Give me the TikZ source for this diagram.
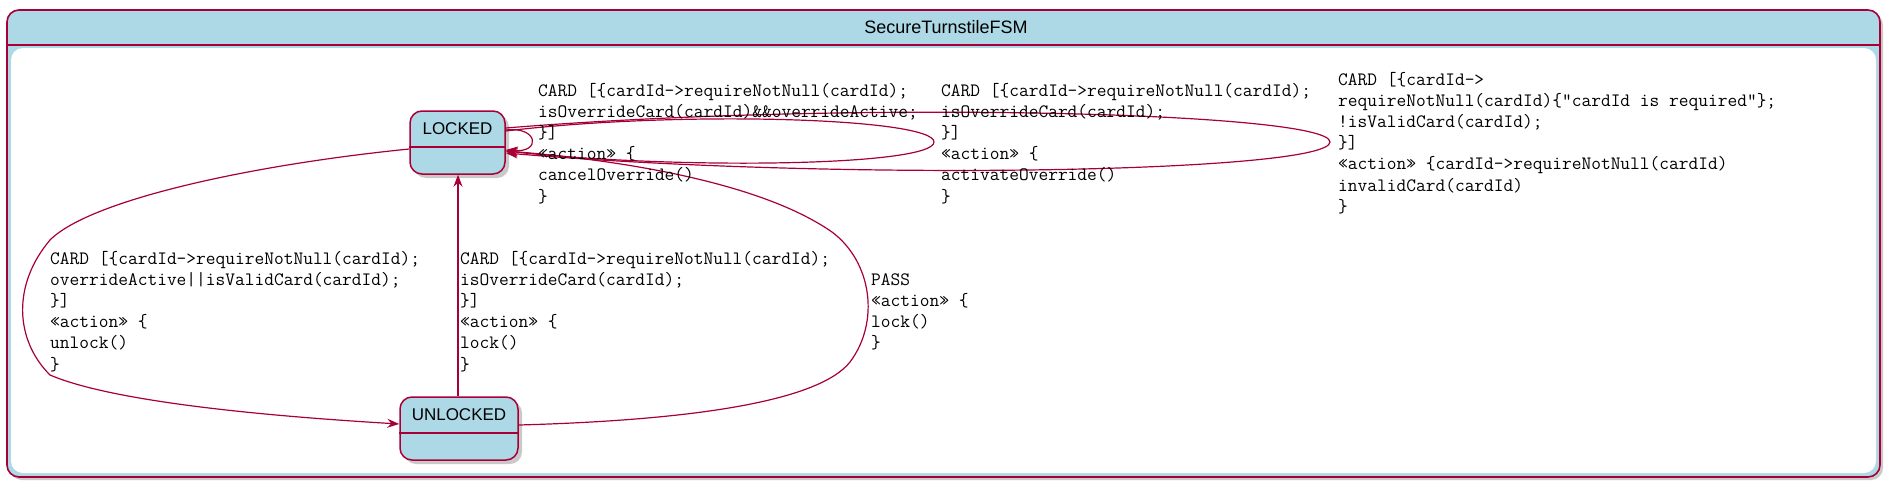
\documentclass[tikz,border=0pt]{standalone}
\usepackage{fontspec}
\newfontfamily\sansf{Liberation Sans}
\usetikzlibrary{arrows.meta,shadows}
\definecolor{pured}{HTML}{A80036}
\definecolor{pulb}{HTML}{ADD8E6}
\tikzset{
  frame/.style={draw=pured, fill=pulb, line width=1.6pt, rounded corners=12pt,
    drop shadow={shadow xshift=3pt, shadow yshift=-3pt, opacity=0.35, fill=black!60}},
  statebox/.style={draw=pured, fill=pulb, line width=1.5pt, rounded corners=12pt,
    drop shadow={shadow xshift=4pt, shadow yshift=-4pt, opacity=0.35, fill=black!60}},
  statename/.style={font=\sansf\fontsize{17}{20}\selectfont, inner sep=0},
  titletext/.style={font=\sansf\fontsize{18}{21}\selectfont, inner sep=0},
  lbl/.style={font=\ttfamily\fontsize{18.9}{21.2}\selectfont, align=left, anchor=north west, inner sep=0},
  sep/.style={draw=pured, line width=1.5pt},
  conn/.style={draw=pured, line width=1.2pt, -{Stealth[length=12pt,width=9pt,inset=4pt]}},
}
\begin{document}
\begin{tikzpicture}[x=1pt,y=-1pt]
\useasboundingbox (0,0) rectangle (1895,490);
% composite state frame
\node[frame, minimum width=1873, minimum height=467] (F) at (943.5,243.5) {};
\draw[sep] (F.west |- 0,45) -- (F.east |- 0,45);
\fill[white, rounded corners=12pt] (11,48) rectangle (1876,473);
\node[titletext] (title) at (946,27) {SecureTurnstileFSM};
% states
\node[statebox, minimum width=95, minimum height=63] (L) at (457.5,142.5) {};
\draw[sep] (L.west |- 0,147) -- (L.east |- 0,147);
\node[statename] (Lt) at (457.5,129) {LOCKED};
\node[statebox, minimum width=118, minimum height=63] (U) at (459,428.5) {};
\draw[sep] (U.west |- 0,433) -- (U.east |- 0,433);
\node[statename] (Ut) at (459,415) {UNLOCKED};
\coordinate (vx) at (458,0);
% connectors
\draw[conn] (L.east |- 0,130) .. controls (538,126) and (542,153) .. (L.east |- 0,150);
\draw[conn] (L.east |- 0,131) .. controls (680,110) and (934,118) .. (934,142) .. controls (934,166) and (680,170) .. (L.east |- 0,151);
\draw[conn] (L.east |- 0,128) .. controls (850,100) and (1330,112) .. (1330,142) .. controls (1330,172) and (850,182) .. (L.east |- 0,153);
\draw[conn] (L.west |- 0,149) .. controls (250,165) and (90,200) .. (50,240) .. controls (12,285) and (15,340) .. (50,375) .. controls (120,405) and (300,418) .. (U.west |- 0,424);
\draw[conn] (U.north -| vx) -- (L.south -| vx);
\draw[conn] (U.east |- 0,425) .. controls (700,420) and (820,400) .. (850,362) .. controls (880,322) and (872,262) .. (832,232) .. controls (760,182) and (620,160) .. (L.east |- 0,151);
% labels
\node[lbl] (la) at (538,81) {\strut CARD [\{cardId->requireNotNull(cardId);\\isOverrideCard(cardId)\&\&overrideActive;\\\}]\\«action» \{\\cancelOverride()\\\}};
\node[lbl] (lb) at (941,81) {\strut CARD [\{cardId->requireNotNull(cardId);\\isOverrideCard(cardId);\\\}]\\«action» \{\\activateOverride()\\\}};
\node[lbl] (lc) at (1338,70) {\strut CARD [\{cardId->\\requireNotNull(cardId)\{"cardId is required"\};\\!isValidCard(cardId);\\\}]\\«action» \{cardId->requireNotNull(cardId)\\invalidCard(cardId)\\\}};
\node[lbl] (ld) at (50,249) {\strut CARD [\{cardId->requireNotNull(cardId);\\overrideActive||isValidCard(cardId);\\\}]\\«action» \{\\unlock()\\\}};
\node[lbl] (le) at (460,249) {\strut CARD [\{cardId->requireNotNull(cardId);\\isOverrideCard(cardId);\\\}]\\«action» \{\\lock()\\\}};
\node[lbl] (lf) at (871,270) {\strut PASS\\«action» \{\\lock()\\\}};
\end{tikzpicture}
\end{document}
